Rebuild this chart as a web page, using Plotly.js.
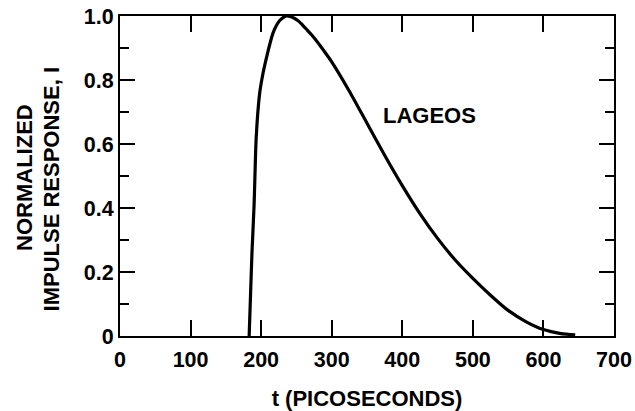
<!DOCTYPE html>
<html>
<head>
<meta charset="utf-8">
<script src="https://cdn.plot.ly/plotly-3.0.1.min.js"></script>
<style>html,body{margin:0;padding:0;background:#fff;}#chart{width:635px;height:411px;}</style>
</head>
<body>
<div id="chart"></div>
<script>
// Time in picoseconds
var t = [183, 185, 187, 190, 193, 198, 203, 208, 213, 217, 222, 226, 231, 236, 242, 247, 253, 259, 265, 272, 280, 288, 300, 325, 350, 375, 400, 425, 450, 475, 500, 525, 550, 575, 600, 625, 645];
// Normalized impulse response
var I = [0, 0.13, 0.26, 0.41, 0.62, 0.76, 0.825, 0.874, 0.918, 0.948, 0.972, 0.985, 0.995, 1.0, 0.998, 0.993, 0.984, 0.971, 0.957, 0.94, 0.918, 0.894, 0.857, 0.765, 0.665, 0.565, 0.47, 0.3825, 0.305, 0.2375, 0.18, 0.1275, 0.08, 0.045, 0.02, 0.0075, 0.0035];

var xTickVals = [0, 100, 200, 300, 400, 500, 600, 700];
var xTickText = ["0", "100", "200", "300", "400", "500", "600", "700"];
var yTickVals = [0, 0.2, 0.4, 0.6, 0.8, 1.0];
var yTickText = ["0", "0.2", "0.4", "0.6", "0.8", "1.0"];
var seriesLabel = "LAGEOS";

var fam = "Liberation Sans, Arial, sans-serif";
var font = {family: fam, size: 22, color: "#000", weight: "bold"};
var tfont = {family: fam, size: 21.5, color: "#000", weight: "bold"};

var data = [{
  x: t, y: I, type: "scatter", mode: "lines",
  line: {color: "#000", width: 3.2, shape: "spline", smoothing: 0.6},
  hoverinfo: "none"
}];

var layout = {
  width: 635, height: 411,
  margin: {l: 120, r: 21, t: 16, b: 75},
  paper_bgcolor: "#fff", plot_bgcolor: "#fff",
  showlegend: false,
  font: font,
  xaxis: {
    range: [0, 700], tickmode: "array", tickvals: xTickVals, ticktext: xTickText,
    ticks: "inside", ticklen: 16, tickwidth: 2, tickcolor: "#000",
    showline: true, linewidth: 2, linecolor: "#000", mirror: "ticks",
    showgrid: false, zeroline: false,
    tickfont: tfont, ticklabelstandoff: 3,
    title: {text: "t (PICOSECONDS)", font: font, standoff: 20}
  },
  yaxis: {
    range: [0, 1.0], tickmode: "array", tickvals: yTickVals, ticktext: yTickText,
    ticks: "inside", ticklen: 15, tickwidth: 2, tickcolor: "#000",
    minor: {dtick: 0.1, ticks: "inside", ticklen: 9, tickwidth: 2, tickcolor: "#000", showgrid: false},
    showline: true, linewidth: 2, linecolor: "#000", mirror: "ticks",
    showgrid: false, zeroline: false,
    tickfont: tfont
  },
  annotations: [
    {xref: "paper", yref: "paper", x: -0.1923, y: 0.494, text: "NORMALIZED", textangle: -90,
     showarrow: false, font: font, xanchor: "center", yanchor: "middle"},
    {xref: "paper", yref: "paper", x: -0.1377, y: 0.461, text: "IMPULSE RESPONSE, I", textangle: -90,
     showarrow: false, font: font, xanchor: "center", yanchor: "middle"},
    {xref: "x", yref: "y", x: 438, y: 0.69, text: seriesLabel,
     showarrow: false, font: font, xanchor: "center", yanchor: "middle"}
  ]
};

Plotly.newPlot("chart", data, layout, {staticPlot: true, displayModeBar: false});
</script>
</body>
</html>
